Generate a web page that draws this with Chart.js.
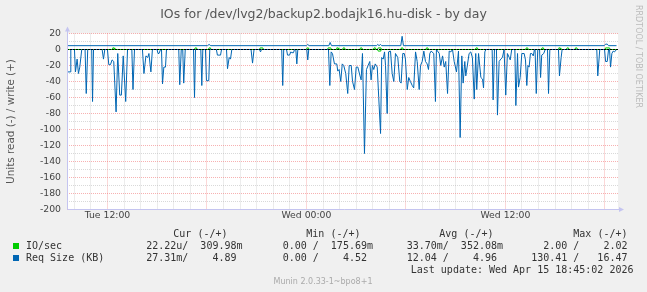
<!DOCTYPE html>
<html>
<head>
<meta charset="utf-8">
<title>IOs for /dev/lvg2/backup2.bodajk16.hu-disk - by day</title>
<script src="https://cdn.jsdelivr.net/npm/chart.js@4.4.1/dist/chart.umd.min.js"></script>
<style>
  html, body { margin: 0; padding: 0; background: #f0f0f0; }
  #wrap { position: relative; width: 647px; height: 292px; overflow: hidden; }
  #myChart { position: absolute; left: 0; top: 0; }
  .txt { position: absolute; white-space: pre; }
  .mono { font: 10px/12px "DejaVu Sans Mono", monospace; color: #333; }
  .box { position: absolute; width: 6px; height: 6px; }
</style>
</head>
<body>
<div id="wrap">
  <canvas id="myChart" width="647" height="292"></canvas>
  <div class="txt" style="left:0;top:6px;width:647px;text-align:center;font:12.5px/16px 'DejaVu Sans';color:#555">IOs for /dev/lvg2/backup2.bodajk16.hu-disk - by day</div>
  <div class="txt" style="left:634px;top:5px;writing-mode:vertical-rl;font:8px/8px 'DejaVu Sans';color:#bbb">RRDTOOL / TOBI OETIKER</div>
  <div id="legend"></div>
  <div class="txt" style="left:0;top:277px;width:646px;text-align:center;font:8px/10px 'DejaVu Sans';color:#aaa">Munin 2.0.33-1~bpo8+1</div>
</div>
<script>
// hours are counted from Tue 00:00
const xRange = [9.56, 42.79];
const yRange = [-200, 20];
const xTickHours = [12, 24, 36];
const xTickLabels = ["Tue 12:00", "Wed 00:00", "Wed 12:00"];
const yTickLabels = [20, 0, -20, -40, -60, -80, -100, -120, -140, -160, -180, -200];

// Req Size (KB), read side (drawn below zero)
const reqSizeRead = [
  [9.59,-28],[9.75,-28],[9.79,0],[10.01,0],[10.07,-28],[10.17,-12],[10.25,-30],[10.33,-22],[10.45,0],
  [10.65,0],[10.72,-55],[10.81,0],[11.05,0],[11.10,-65],[11.16,0],[11.68,0],[11.76,-12],[11.84,0],
  [12.00,0],[12.08,-19],[12.18,-19],[12.28,-13],[12.38,-15],[12.52,-78],[12.62,-5],[12.74,-57],[12.84,-57],[12.95,-8],[13.10,-65],[13.21,0],
  [13.47,0],[13.54,-50],[13.63,0],[14.11,0],[14.20,-30],[14.32,-8],[14.43,-10],[14.50,-5],[14.62,-28],[14.71,0],
  [14.99,0],[15.05,-5],[15.11,-5],[15.20,0],[15.26,0],[15.32,-43],[15.40,-22],[15.50,-22],[15.56,0],
  [16.30,0],[16.36,-44],[16.45,0],[16.54,0],[16.60,-42],[16.69,0],[17.19,0],[17.25,-60],[17.31,0],
  [17.63,0],[17.69,-45],[17.75,0],[17.91,0],[17.97,-39],[18.11,-39],[18.17,0],[18.57,0],[18.63,-7],[18.82,-7],[18.88,0],
  [19.18,0],[19.24,-24],[19.34,-10],[19.42,-12],[19.50,0],[20.66,0],[20.75,-17],[20.84,0],[21.17,0],[21.23,-3],[21.29,0],
  [22.51,0],[22.57,-45],[22.63,0],[22.80,0],[22.86,-7],[22.98,-7],[23.06,-3],[23.12,-4],[23.22,-4],[23.28,0],
  [23.36,0],[23.42,-18],[23.48,0],[24.02,0],[24.08,-13],[24.14,0],
  [25.33,0],[25.41,-45],[25.49,-3],[25.57,-5],[25.69,-18],[25.83,-18],[25.89,-27],[25.97,-25],[26.07,-40],[26.16,-18],
  [26.25,-20],[26.37,-30],[26.49,-55],[26.58,-20],[26.70,-20],[26.78,-40],[26.90,-50],[27.00,-22],[27.10,-22],[27.22,-32],[27.30,-38],[27.38,-5],
  [27.50,-130],[27.62,-25],[27.72,-20],[27.82,-15],[27.90,-38],[27.98,-20],[28.06,-25],[28.15,-18],[28.27,-22],[28.36,-60],[28.47,-105],
  [28.54,-10],[28.63,-12],[28.71,-3],[28.77,-20],[28.87,-80],[28.95,-3],[29.07,-2],[29.17,-30],[29.27,-40],[29.37,-5],[29.51,-10],
  [29.63,-40],[29.71,-42],[29.81,-5],[29.90,-5],[29.97,-12],[30.08,-50],[30.17,-35],[30.27,-40],[30.38,-45],[30.47,-48],[30.58,-3],
  [30.68,-15],[30.80,-50],[30.88,-20],[30.98,-15],[31.08,-2],[31.18,-15],[31.28,-18],[31.36,-25],[31.44,-5],[31.52,-2],[31.68,-5],
  [31.78,-65],[31.84,0],[32.01,-5],[32.10,-20],[32.21,-8],[32.31,-22],[32.40,-15],[32.51,-55],[32.61,-2],[32.71,-3],[32.81,0],
  [32.91,-15],[33.05,-28],[33.17,-2],[33.27,-110],[33.37,-8],[33.45,-42],[33.55,-15],[33.61,-33],[33.69,-22],[33.81,-5],[33.91,-3],
  [34.01,-10],[34.12,-62],[34.21,-5],[34.27,-50],[34.38,-5],[34.52,-35],[34.62,-37],[34.68,-48],[34.76,-3],[34.82,0],
  [35.20,0],[35.26,-63],[35.34,0],[35.46,0],[35.52,-82],[35.62,-15],[35.72,-12],[35.82,-10],[35.92,0],
  [35.96,0],[36.02,-57],[36.12,-5],[36.23,-10],[36.29,-13],[36.38,0],[36.57,0],[36.63,-70],[36.73,-5],[36.79,-47],[36.89,-35],[36.99,-5],
  [37.13,-5],[37.21,-13],[37.29,-45],[37.36,-20],[37.43,-22],[37.51,-5],[37.59,-5],[37.68,-8],[37.75,0],
  [37.79,0],[37.86,-55],[37.95,0],[38.06,0],[38.12,-35],[38.19,-7],[38.31,-5],[38.40,0],[38.54,0],[38.60,-55],[38.68,0],
  [39.20,0],[39.26,-33],[39.36,-10],[39.42,0],[41.51,0],[41.57,-33],[41.69,0],[41.98,0],[42.04,-15],[42.14,-15],[42.22,0],
  [42.28,0],[42.34,-22],[42.42,-5],[42.50,-2],[42.58,-3],[42.70,0]
];

// Req Size (KB), write side
const reqSizeWrite = [
  [9.56,4.8],[18.03,4.8],[18.13,6.3],[18.23,4.8],[24.00,4.8],[24.08,6.3],[24.16,4.8],
  [25.35,4.8],[25.43,8.8],[25.51,4.8],[28.22,4.8],[28.30,6.3],[28.38,4.8],[28.47,6.3],[28.54,4.8],
  [29.69,4.8],[29.77,16.5],[29.85,4.8],[41.96,4.8],[42.04,6.7],[42.14,6.7],[42.22,4.8],[42.70,4.8]
];

// IO/sec, write side
const ioWrite = [
  [9.56,0],
  [12.28,0],[12.32,2],[12.40,2],[12.44,0],
  [17.25,0],[17.29,2],[17.37,2],[17.41,0],
  [18.09,0],[18.13,2],[18.21,2],[18.25,0],
  [21.17,0],[21.21,2],[21.37,2],[21.41,0],
  [24.00,0],[24.04,2],[24.12,2],[24.16,0],
  [25.27,0],[25.31,2],[25.47,2],[25.51,0],
  [25.79,0],[25.83,2],[25.91,2],[25.95,0],
  [26.18,0],[26.22,2],[26.30,2],[26.34,0],
  [27.22,0],[27.26,2],[27.34,2],[27.38,0],
  [28.04,0],[28.08,2],[28.16,2],[28.20,0],
  [28.29,0],[28.33,2],[28.49,2],[28.53,0],
  [29.69,0],[29.73,2],[29.81,2],[29.85,0],
  [31.20,0],[31.24,2],[31.32,2],[31.36,0],
  [34.19,0],[34.23,2],[34.31,2],[34.35,0],
  [37.22,0],[37.26,2],[37.34,2],[37.38,0],
  [38.17,0],[38.21,2],[38.29,2],[38.33,0],
  [39.18,0],[39.22,2],[39.30,2],[39.34,0],
  [39.68,0],[39.72,2],[39.80,2],[39.84,0],
  [40.19,0],[40.23,2],[40.31,2],[40.35,0],
  [42.00,0],[42.04,2],[42.28,2],[42.32,0],
  [42.70,0]
];

// IO/sec, read side
const ioRead = [[9.56,0],[28.29,0],[28.33,-2],[28.45,-2],[28.49,0],[42.70,0]];

// legend table
const legendNames = ["IO/sec", "Req Size (KB)"];
const legendColors = ["#00cc00", "#0066b3"];
const legendHeads = ["Cur (-/+)", "Min (-/+)", "Avg (-/+)", "Max (-/+)"];
const legendCur = ["22.22u/  309.98m", "27.31m/    4.89 "];
const legendMin = ["0.00 /  175.69m", "0.00 /    4.52 "];
const legendAvg = ["33.70m/  352.08m", "12.04 /    4.96 "];
const legendMax = ["2.00 /    2.02 ", "130.41 /   16.47 "];
const lastUpdate = "Last update: Wed Apr 15 18:45:02 2026";

function toPoints(series) {
  return series.map(([x, y]) => ({ x, y }));
}

function buildLegend() {
  const el = document.getElementById("legend");
  const rightEdges = [404.5, 274, 144, 13.5];
  const headRight = [419.5, 286.5, 153.5, 19.5];
  let html = "";
  legendHeads.forEach((h, i) => {
    html += `<div class="txt mono" style="right:${headRight[i]}px;top:227.5px">${h}</div>`;
  });
  legendNames.forEach((name, r) => {
    const top = 239.5 + r * 12;
    html += `<div class="box" style="left:13px;top:${top + 3}px;background:${legendColors[r]}"></div>`;
    html += `<div class="txt mono" style="left:26px;top:${top}px">${name}</div>`;
    [legendCur, legendMin, legendAvg, legendMax].forEach((col, c) => {
      html += `<div class="txt mono" style="right:${rightEdges[c]}px;top:${top}px">${col[r]}</div>`;
    });
  });
  html += `<div class="txt mono" style="right:13.5px;top:263.5px">${lastUpdate}</div>`;
  el.innerHTML = html;
}

const muninPlugin = {
  id: "munin",
  beforeDraw(chart) {
    const { ctx, chartArea: a } = chart;
    ctx.save();
    ctx.fillStyle = "#ffffff";
    ctx.fillRect(a.left, a.top, a.right - a.left, a.bottom - a.top);
    ctx.restore();
  },
  afterDatasetsDraw(chart) {
    const { ctx, chartArea: a, scales } = chart;
    const y0 = Math.round(scales.y.getPixelForValue(0) - 0.5) + 0.5;
    ctx.save();
    // zero rule
    ctx.strokeStyle = "#000000";
    ctx.lineWidth = 1;
    ctx.setLineDash([2, 1]);
    ctx.beginPath();
    ctx.moveTo(a.left, y0);
    ctx.lineTo(a.right, y0);
    ctx.stroke();
    ctx.setLineDash([]);
    // axes with arrows
    const axisX = a.left + 0.5;
    const axisY = Math.round(a.bottom - 0.5) + 0.5;
    ctx.strokeStyle = "#c4c4f0";
    ctx.fillStyle = "#c4c4f0";
    ctx.beginPath();
    ctx.moveTo(axisX, axisY);
    ctx.lineTo(axisX, a.top - 3);
    ctx.moveTo(axisX, axisY);
    ctx.lineTo(a.right + 3, axisY);
    ctx.stroke();
    ctx.beginPath();
    ctx.moveTo(axisX - 2.5, a.top - 2);
    ctx.lineTo(axisX + 2.5, a.top - 2);
    ctx.lineTo(axisX, a.top - 7);
    ctx.closePath();
    ctx.fill();
    ctx.beginPath();
    ctx.moveTo(a.right + 1, axisY - 2.5);
    ctx.lineTo(a.right + 1, axisY + 2.5);
    ctx.lineTo(a.right + 6, axisY);
    ctx.closePath();
    ctx.fill();
    ctx.restore();
  },
};

function renderChart() {
  Chart.defaults.font.family = "'DejaVu Sans'";
  Chart.defaults.color = "#555";

  const lineStyle = {
    borderWidth: 1,
    pointRadius: 0,
    tension: 0,
    fill: false,
  };

  const ctx = document.getElementById("myChart");
  new Chart(ctx, {
    type: "line",
    data: {
      datasets: [
        { label: "Req Size (KB) read", data: toPoints(reqSizeRead), borderColor: "#0066b3", ...lineStyle },
        { label: "Req Size (KB) write", data: toPoints(reqSizeWrite), borderColor: "#0066b3", ...lineStyle },
        { label: "IO/sec write", data: toPoints(ioWrite), borderColor: "#00cc00", ...lineStyle },
        { label: "IO/sec read", data: toPoints(ioRead), borderColor: "#00cc00", ...lineStyle },
      ],
    },
    options: {
      responsive: false,
      animation: false,
      devicePixelRatio: 1,
      layout: { padding: { top: 33.5, left: 0, right: 29, bottom: 60 } },
      plugins: { legend: { display: false }, tooltip: { enabled: false } },
      scales: {
        x: {
          type: "linear",
          min: xRange[0],
          max: xRange[1],
          afterFit: (scale) => { scale.height = 22.5; },
          border: { display: false, dash: [1, 1] },
          grid: {
            drawTicks: false,
            borderDash: [1, 1],
            lineWidth: 1,
            color: (c) => (c.tick && c.tick.value % 6 === 0 ? "rgba(240,100,100,0.5)" : "rgba(170,170,170,0.45)"),
          },
          ticks: {
            stepSize: 1,
            includeBounds: false,
            autoSkip: false,
            maxRotation: 0,
            padding: 1,
            font: { size: 9.3 },
            color: "#444",
            callback: (v) => {
              const i = xTickHours.indexOf(v);
              return i >= 0 ? xTickLabels[i] : "";
            },
          },
        },
        y: {
          min: yRange[0],
          max: yRange[1],
          afterFit: (scale) => { scale.width = 67; },
          border: { display: false, dash: [1, 1] },
          grid: {
            drawTicks: false,
            borderDash: [1, 1],
            lineWidth: 1,
            color: (c) => (c.tick && c.tick.value % 20 === 0 ? "rgba(240,100,100,0.5)" : "rgba(170,170,170,0.45)"),
          },
          title: {
            display: true,
            text: "Units read (-) / write (+)",
            font: { size: 10.4 },
            color: "#555",
            padding: { top: 5, bottom: 0 },
          },
          ticks: {
            stepSize: 10,
            autoSkip: false,
            padding: 6,
            font: { size: 9.3 },
            color: "#444",
            callback: (v) => (yTickLabels.includes(v) ? String(v) : ""),
          },
        },
      },
    },
    plugins: [muninPlugin],
  });
}

buildLegend();
renderChart();
</script>
</body>
</html>
